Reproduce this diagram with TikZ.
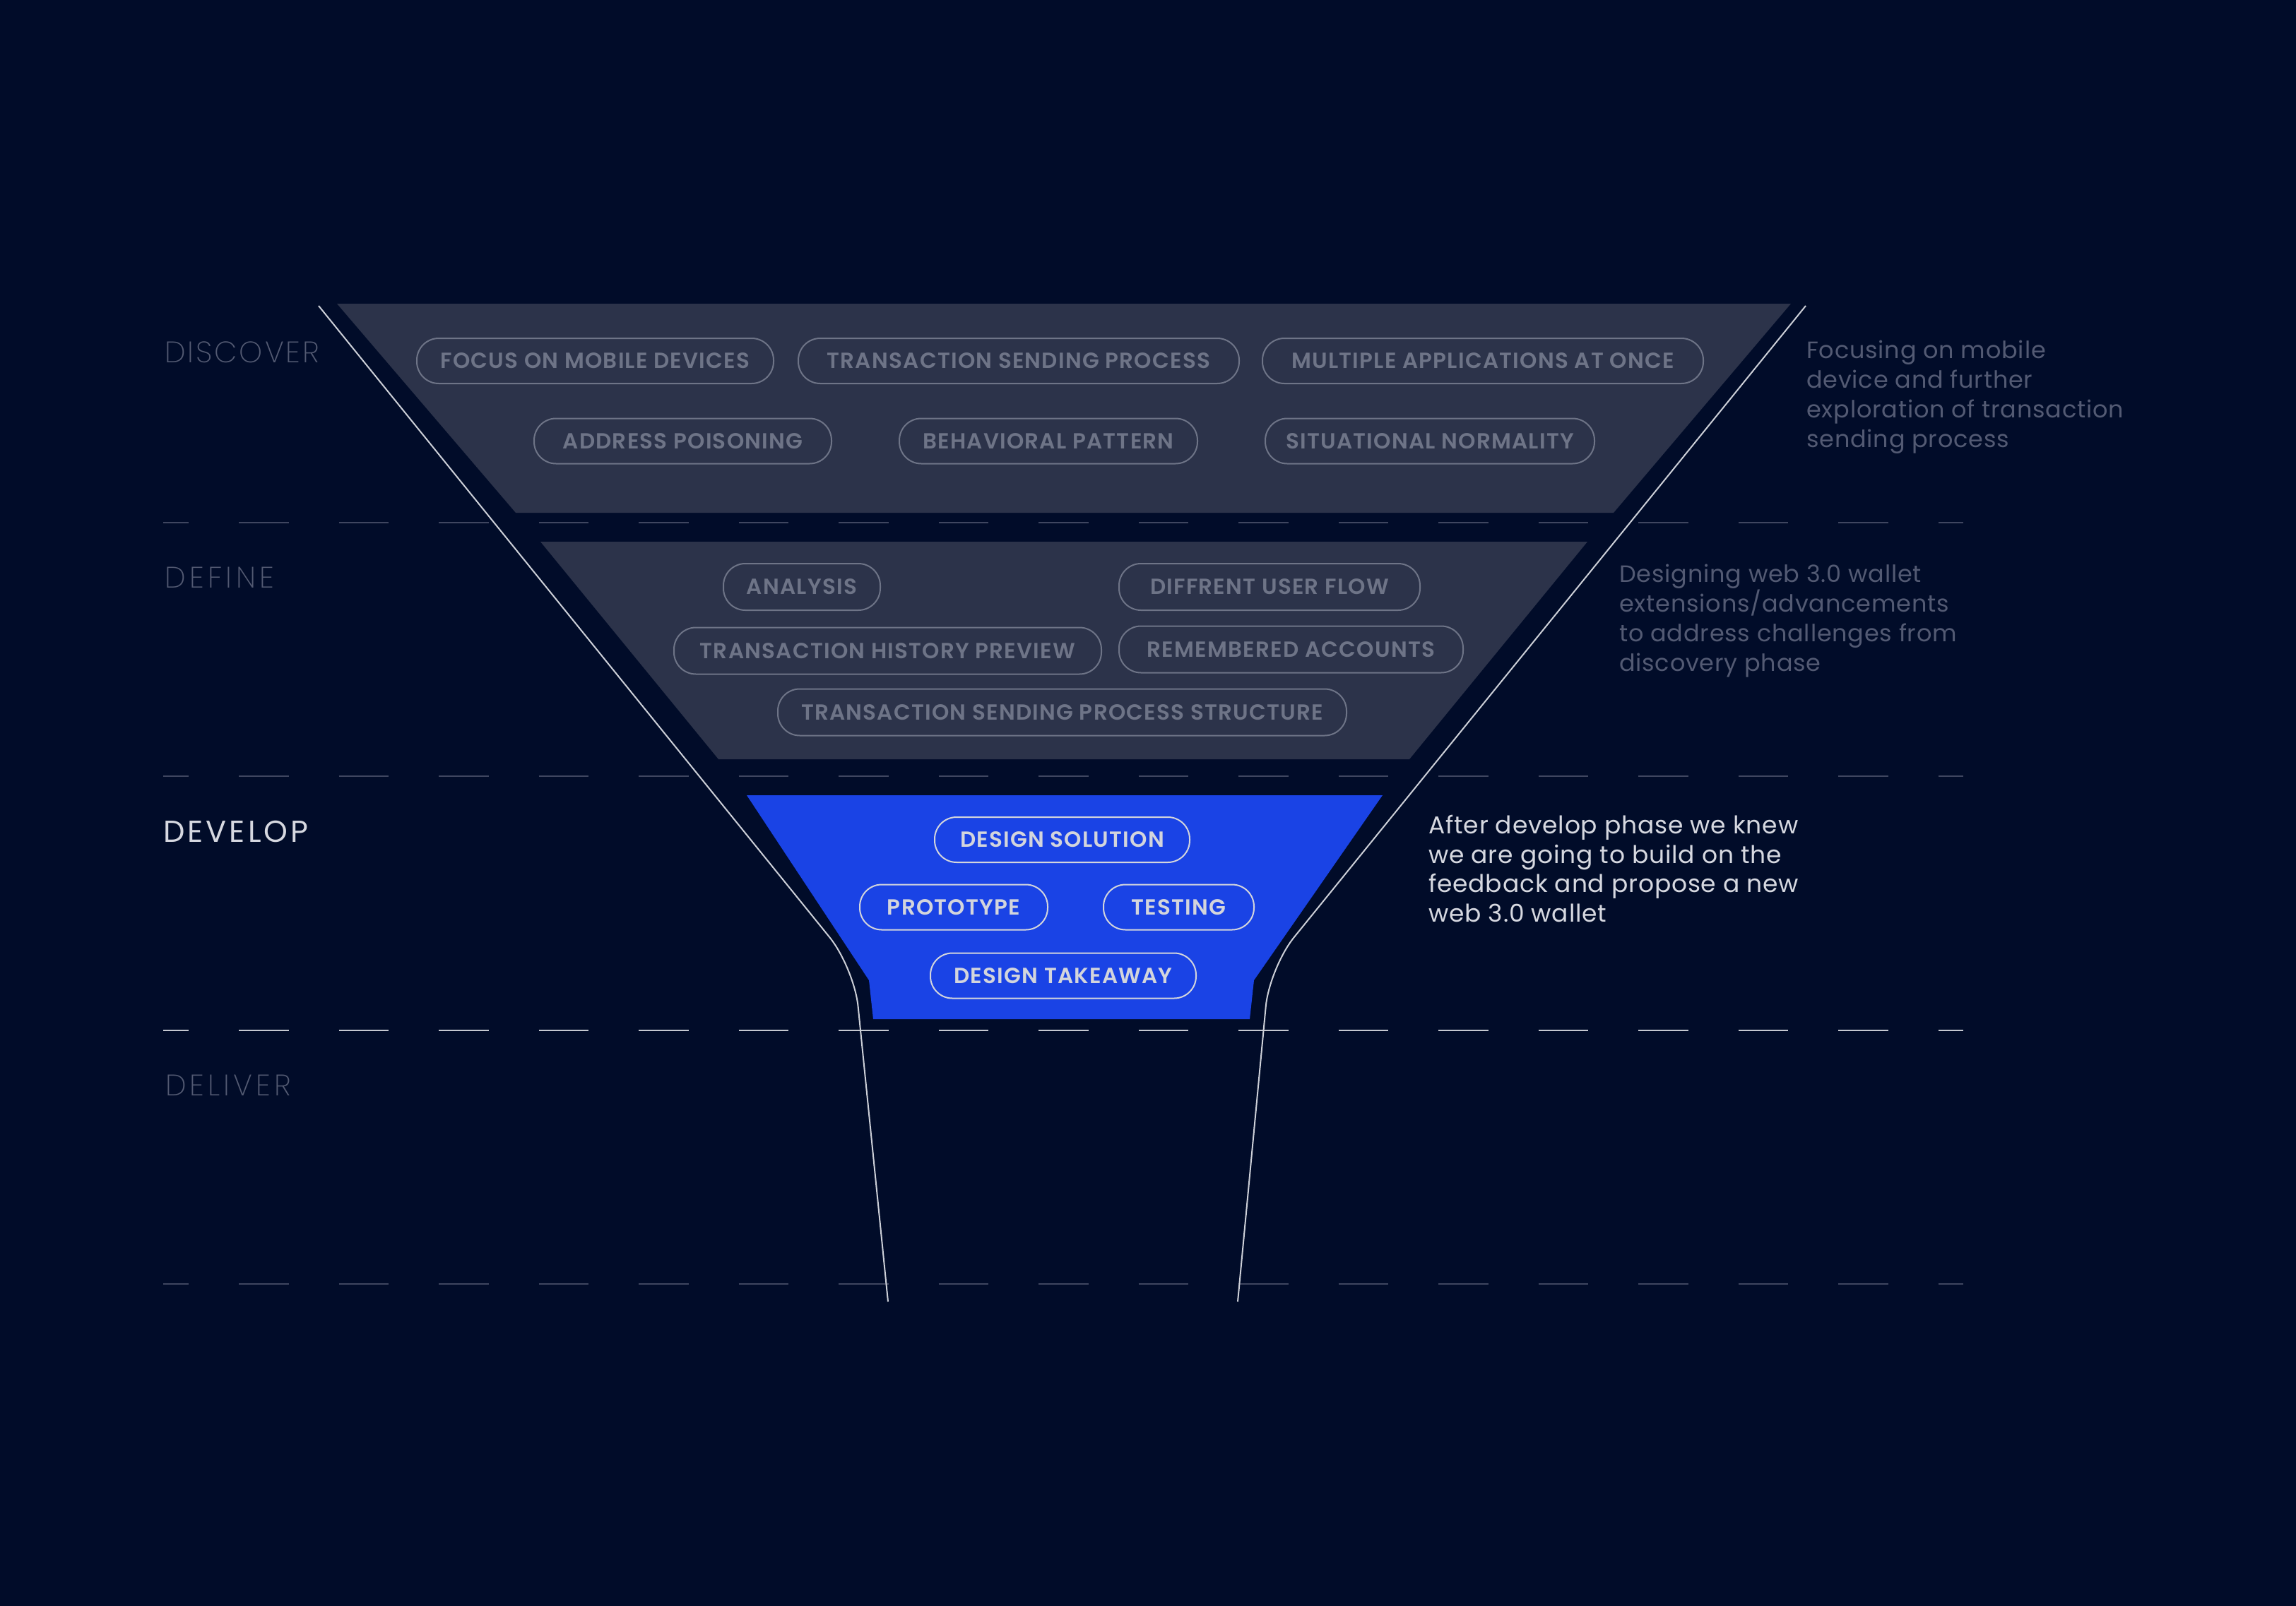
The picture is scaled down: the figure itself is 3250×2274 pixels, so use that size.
\documentclass[tikz,border=0pt]{standalone}
\usepackage{fontspec}
\setmainfont{Poppins}
\newfontfamily\pillfont{Poppins SemiBold}[LetterSpace=4]
\newfontfamily\thinfont{Poppins ExtraLight}
\newfontfamily\descfont{Poppins}[LetterSpace=2.4]
\definecolor{bg}{HTML}{010C29}
\definecolor{trapgray}{HTML}{2C334A}
\definecolor{devblue}{HTML}{1A43E5}
\definecolor{pillgray}{HTML}{6E7487}
\definecolor{pilllight}{HTML}{D3D5DC}
\definecolor{outlinec}{HTML}{CDD0D8}
\definecolor{dashgray}{HTML}{3F4660}
\definecolor{dashlight}{HTML}{C5C8D0}
\definecolor{descgray}{HTML}{535A73}
\definecolor{labelgray}{HTML}{535A72}
\definecolor{textlight}{HTML}{D6D8E0}
\begin{document}
\begin{tikzpicture}[x=1pt,y=-1pt,
  pill/.style={draw=pillgray, line width=2pt, rounded corners=31pt, minimum height=64pt,
    inner sep=0pt, font=\pillfont\fontsize{31}{31}\selectfont, text=pillgray},
  devpill/.style={pill, draw=pilllight, text=pilllight},
  dashline/.style={line width=2.5pt, dash pattern=on 70.5pt off 71pt, dash phase=34.5pt},
  outline/.style={draw=outlinec, line width=2pt, rounded corners=55pt},
  phasethin/.style={anchor=base west, inner sep=0pt, text=labelgray, font=\thinfont\fontsize{42}{42}\selectfont},
  phasebold/.style={anchor=base west, inner sep=0pt, text=textlight, font=\fontsize{43}{43}\selectfont},
  desc/.style={anchor=base west, inner sep=0pt, text=descgray, font=\descfont\fontsize{33.5}{42}\selectfont},
  devdesc/.style={desc, text=textlight, font=\descfont\fontsize{34.5}{42}\selectfont}]
\fill[bg] (0,0) rectangle (3250,2274);
\useasboundingbox (0,0) rectangle (3250,2274);
% dashed separators
\draw[dashline, draw=dashgray] (231,740) -- (2779,740);
\draw[dashline, draw=dashgray] (231,1099) -- (2779,1099);
\draw[dashline, draw=dashlight] (231,1459) -- (2779,1459);
\draw[dashline, draw=dashgray] (231,1818) -- (2779,1818);
% funnel stages
\fill[trapgray] (477,430) -- (2535,430) -- (2284,726) -- (730,726) -- cycle;
\fill[trapgray] (765,767) -- (2247,767) -- (1995,1075) -- (1017,1075) -- cycle;
\fill[devblue] (1057,1126) -- (1957,1126) -- (1775,1388) -- (1769,1443) -- (1236,1443) -- (1230,1388) -- cycle;
% funnel outline
\coordinate (lt) at (451,433);
\coordinate (lk) at (1209,1370);
\coordinate (lb) at (1257,1843);
\coordinate (rt) at (2556,433);
\coordinate (rk) at (1797,1370);
\coordinate (rb) at (1752,1843);
\draw[outline] (lt) -- (lk) -- (lb);
\draw[outline] (rt) -- (rk) -- (rb);
% discover pills
\node[pill, minimum width=505pt] (p1) at (842.5,511) {FOCUS ON MOBILE DEVICES};
\node[pill, minimum width=624pt] (p2) at (1442,511) {TRANSACTION SENDING PROCESS};
\node[pill, minimum width=624pt] (p3) at (2099,511) {MULTIPLE APPLICATIONS AT ONCE};
\node[pill, minimum width=421pt] (p4) at (966.5,624.5) {ADDRESS POISONING};
\node[pill, minimum width=422pt] (p5) at (1484,624.5) {BEHAVIORAL PATTERN};
\node[pill, minimum width=466pt] (p6) at (2024,624.5) {SITUATIONAL NORMALITY};
% define pills
\node[pill, minimum width=222pt, minimum height=66pt] (q1) at (1135,831) {ANALYSIS};
\node[pill, minimum width=426pt, minimum height=66pt] (q2) at (1797,831) {DIFFRENT USER FLOW};
\node[pill, minimum width=605pt, minimum height=66pt] (q3) at (1256.5,921.5) {TRANSACTION HISTORY PREVIEW};
\node[pill, minimum width=487pt, minimum height=66pt] (q4) at (1827.5,919.5) {REMEMBERED ACCOUNTS};
\node[pill, minimum width=805pt, minimum height=66pt] (q5) at (1503.5,1008.5) {TRANSACTION SENDING PROCESS STRUCTURE};
% develop pills
\node[devpill, minimum width=361pt] (r1) at (1503.5,1189) {DESIGN SOLUTION};
\node[devpill, minimum width=266pt] (r2) at (1350,1284.5) {PROTOTYPE};
\node[devpill, minimum width=213pt] (r3) at (1668.5,1284.5) {TESTING};
\node[devpill, minimum width=376pt] (r4) at (1505,1381.5) {DESIGN TAKEAWAY};
% phase labels
\node[phasethin] (l1) at (233,513) {\addfontfeature{LetterSpace=7}DISCOVER};
\node[phasethin] (l2) at (233,832) {\addfontfeature{LetterSpace=13}DEFINE};
\node[phasebold] (l3) at (231,1192) {\addfontfeature{LetterSpace=9.5}DEVELOP};
\node[phasethin] (l4) at (234,1551) {\addfontfeature{LetterSpace=12}DELIVER};
% descriptions
\node[desc] (a1) at (2557,507) {Focusing on mobile};
\node[desc] (a2) at (2557,549) {device and further};
\node[desc] (a3) at (2557,591) {exploration of transaction};
\node[desc] (a4) at (2557,633) {sending process};
\node[desc] (b1) at (2292,824) {Designing web 3.0 wallet};
\node[desc] (b2) at (2292,866) {extensions/advancements};
\node[desc] (b3) at (2292,908) {to address challenges from};
\node[desc] (b4) at (2292,950) {discovery phase};
\node[devdesc] (c1) at (2022,1180) {After develop phase we knew};
\node[devdesc] (c2) at (2022,1222) {we are going to build on the};
\node[devdesc] (c3) at (2022,1263) {feedback and propose a new};
\node[devdesc] (c4) at (2022,1305) {web 3.0 wallet};
\end{tikzpicture}
\end{document}
